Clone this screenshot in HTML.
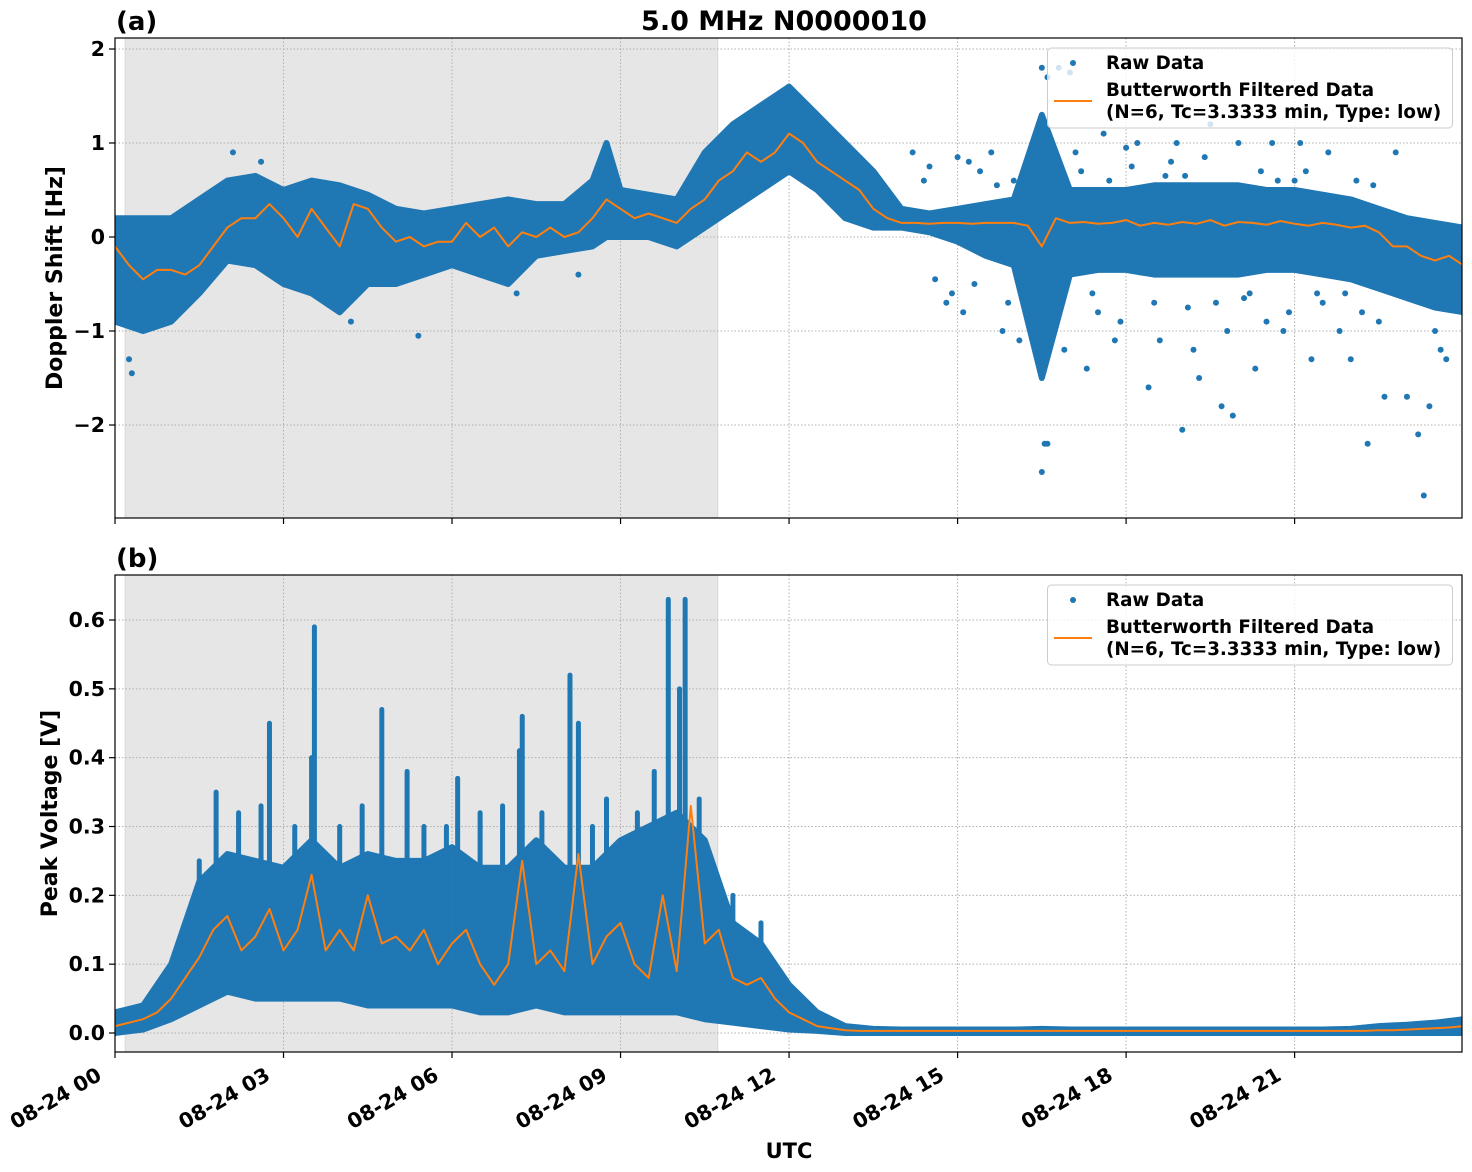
<!DOCTYPE html>
<html><head><meta charset="utf-8"><style>
html,body{margin:0;padding:0;background:#fff;}
svg{display:block;font-family:"DejaVu Sans","Liberation Sans",sans-serif;font-weight:bold;}
</style></head><body>
<svg id="fig" width="1472" height="1172" viewBox="0 0 1472 1172"></svg>
<script>
// ---------- DATA ----------
const tickHours = [0,3,6,9,12,15,18,21];
const tickLabels = ["08-24 00","08-24 03","08-24 06","08-24 09","08-24 12","08-24 15","08-24 18","08-24 21"];
const dopplerTicks = [-2,-1,0,1,2];
const dopplerTickLabels = ["\u22122","\u22121","0","1","2"];
const voltTicks = [0,0.1,0.2,0.3,0.4,0.5,0.6];
const voltTickLabels = ["0.0","0.1","0.2","0.3","0.4","0.5","0.6"];
const shadeStart = 0.18, shadeEnd = 10.73;

// band times every 0.5 h
const bandT = [0,0.5,1,1.5,2,2.5,3,3.5,4,4.5,5,5.5,6,6.5,7,7.5,8,8.5,8.75,9,9.5,10,10.5,11,11.5,12,12.5,13,13.5,14,14.5,15,15.5,16,16.5,17,17.5,18,18.5,19,19.5,20,20.5,21,21.5,22,22.5,23,23.5,24];
const dopHi = [0.2,0.2,0.2,0.4,0.6,0.65,0.5,0.6,0.55,0.45,0.3,0.25,0.3,0.35,0.4,0.35,0.35,0.6,1.0,0.5,0.45,0.4,0.9,1.2,1.4,1.6,1.3,1.0,0.7,0.3,0.25,0.3,0.35,0.4,1.3,0.5,0.5,0.5,0.55,0.55,0.55,0.55,0.5,0.5,0.45,0.4,0.3,0.2,0.15,0.1];
const dopLo = [-0.9,-1.0,-0.9,-0.6,-0.25,-0.3,-0.5,-0.6,-0.8,-0.5,-0.5,-0.4,-0.3,-0.4,-0.5,-0.2,-0.15,-0.1,0.0,0.0,0.0,-0.1,0.1,0.3,0.5,0.7,0.5,0.2,0.1,0.1,0.05,-0.05,-0.2,-0.3,-1.5,-0.4,-0.35,-0.35,-0.4,-0.4,-0.4,-0.4,-0.35,-0.35,-0.4,-0.45,-0.55,-0.65,-0.75,-0.8];
const voltHi = [0.03,0.04,0.1,0.22,0.26,0.25,0.24,0.28,0.24,0.26,0.25,0.25,0.27,0.24,0.24,0.28,0.24,0.24,0.26,0.28,0.3,0.32,0.28,0.16,0.13,0.07,0.03,0.01,0.006,0.005,0.005,0.005,0.005,0.005,0.006,0.005,0.005,0.005,0.005,0.005,0.005,0.005,0.005,0.005,0.005,0.006,0.01,0.012,0.015,0.02];
const voltLo = [0,0.005,0.02,0.04,0.06,0.05,0.05,0.05,0.05,0.04,0.04,0.04,0.04,0.03,0.03,0.04,0.03,0.03,0.03,0.03,0.03,0.03,0.02,0.015,0.01,0.005,0.003,0,0,0,0,0,0,0,0,0,0,0,0,0,0,0,0,0,0,0,0,0,0,0];

// filtered series every 0.25 h
const filtT = Array.from({length:97},(_,i)=>i*0.25);
const dopFilt = [-0.1,-0.3,-0.45,-0.35,-0.35,-0.4,-0.3,-0.1,0.1,0.2,0.2,0.35,0.2,0.0,0.3,0.1,-0.1,0.35,0.3,0.1,-0.05,0.0,-0.1,-0.05,-0.05,0.15,0.0,0.1,-0.1,0.05,0.0,0.1,0.0,0.05,0.2,0.4,0.3,0.2,0.25,0.2,0.15,0.3,0.4,0.6,0.7,0.9,0.8,0.9,1.1,1.0,0.8,0.7,0.6,0.5,0.3,0.2,0.15,0.15,0.14,0.15,0.15,0.14,0.15,0.15,0.15,0.12,-0.1,0.2,0.15,0.16,0.14,0.15,0.18,0.12,0.15,0.13,0.16,0.14,0.18,0.12,0.16,0.15,0.13,0.17,0.14,0.12,0.15,0.13,0.1,0.12,0.05,-0.1,-0.1,-0.2,-0.25,-0.2,-0.3];
const voltFilt = [0.01,0.015,0.02,0.03,0.05,0.08,0.11,0.15,0.17,0.12,0.14,0.18,0.12,0.15,0.23,0.12,0.15,0.12,0.2,0.13,0.14,0.12,0.15,0.1,0.13,0.15,0.1,0.07,0.1,0.25,0.1,0.12,0.09,0.26,0.1,0.14,0.16,0.1,0.08,0.2,0.09,0.33,0.13,0.15,0.08,0.07,0.08,0.05,0.03,0.02,0.01,0.007,0.004,0.003,0.003,0.003,0.003,0.003,0.003,0.003,0.003,0.003,0.003,0.003,0.003,0.003,0.003,0.003,0.003,0.003,0.003,0.003,0.003,0.003,0.003,0.003,0.003,0.003,0.003,0.003,0.003,0.003,0.003,0.003,0.003,0.003,0.003,0.003,0.003,0.003,0.004,0.004,0.005,0.006,0.007,0.008,0.01];

// outlier points (hour, Hz)
const dopOutT = [0.3,0.25,2.1,2.6,4.2,5.4,7.15,8.25,14.2,14.5,15,15.3,15.6,15.8,16.1,16.5,16.55,16.6,16.5,16.6,16.8,17,16.9,17.1,17.3,17.6,17.9,18.2,18.4,18.6,18.9,19.0,19.3,19.5,19.8,20.0,20.3,20.6,20.8,21.1,21.3,21.6,22.0,22.3,22.6,22.8,23.0,23.2,23.3,23.4,23.6,23.7,19.7,19.9,14.8,15.2,17.8,18.0,19.2,20.5,21.8,22.2,14.4,14.9,15.4,15.9,16.3,17.2,17.5,18.1,18.5,18.8,19.1,19.4,20.1,20.4,20.9,21.2,21.5,22.1,22.5,15.1,16.0,17.4,18.7,19.6,20.7,21.4,22.4,14.6,15.7,16.2,17.7,19.05,20.2,21.0,21.9,23.5];
const dopOutV = [-1.45,-1.3,0.9,0.8,-0.9,-1.05,-0.6,-0.4,0.9,0.75,0.85,-0.5,0.9,-1.0,-1.1,-2.5,-2.2,-2.2,1.8,1.7,1.8,1.75,-1.2,0.9,-1.4,1.1,-0.9,1.0,-1.6,-1.1,1.0,-2.05,-1.5,1.2,-1.0,1.0,-1.4,1.0,-1.0,1.0,-1.3,0.9,-1.3,-2.2,-1.7,0.9,-1.7,-2.1,-2.75,-1.8,-1.2,-1.3,-1.8,-1.9,-0.7,0.8,-1.1,0.95,-1.2,-0.9,-1.0,-0.8,0.6,-0.6,0.7,-0.7,0.8,0.7,-0.8,0.75,-0.7,0.8,-0.75,0.85,-0.65,0.7,-0.8,0.7,-0.7,0.6,-0.9,-0.8,0.6,-0.6,0.65,-0.7,0.6,-0.6,0.55,-0.45,0.55,-0.55,0.6,0.65,-0.6,0.6,-0.6,-1.0];
// voltage spikes (hour, peak V)
const voltSpikeT = [1.8,2.2,2.6,2.75,3.2,3.5,3.55,4.0,4.75,5.2,5.5,6.1,6.5,7.2,7.25,7.6,8.1,8.25,8.75,9.3,9.85,10.15,10.05,10.4,11.0,11.5,1.5,4.4,5.9,6.9,8.5,9.6];
const voltSpikeV = [0.35,0.32,0.33,0.45,0.3,0.4,0.59,0.3,0.47,0.38,0.3,0.37,0.32,0.41,0.46,0.32,0.52,0.45,0.34,0.32,0.63,0.63,0.5,0.34,0.2,0.16,0.25,0.33,0.3,0.33,0.3,0.38];

// ---------- RENDER ----------
const NS = "http://www.w3.org/2000/svg";
const svg = document.getElementById("fig");
const X0 = 115, X1 = 1462;
const xs = h => X0 + (X1 - X0) * h / 23.98;
const topY = v => 237 - 94 * v;
const botY = v => 1033 - 688.3 * v;
const BLUE = "#1f77b4", ORANGE = "#ff7f0e";

function mk(tag, attrs, parent) {
  const e = document.createElementNS(NS, tag);
  for (const k in attrs) e.setAttribute(k, attrs[k]);
  (parent || svg).appendChild(e);
  return e;
}
function txt(s, attrs, parent) { const e = mk("text", attrs, parent); e.textContent = s; return e; }

function panel(cfg) {
  const g = mk("g", {});
  
  
  const cid = cfg.name + "-clip";
  const cp = mk("clipPath", {id: cid}, g);
  mk("rect", {x: X0, y: cfg.top, width: X1 - X0, height: cfg.bot - cfg.top}, cp);
  const plot = mk("g", {"clip-path": "url(#" + cid + ")"}, g);
  const sh = mk("rect", {x: xs(shadeStart), y: cfg.top, width: xs(shadeEnd) - xs(shadeStart), height: cfg.bot - cfg.top, fill: "#e6e6e6", stroke: "#d8d8d8"}, plot);
  
  
  tickHours.forEach(h => {
    const l = mk("line", {x1: xs(h), x2: xs(h), y1: cfg.top, y2: cfg.bot, stroke: "#b0b0b0", "stroke-width": 1, "stroke-dasharray": "1.5,2"}, plot);
    
    
  });
  cfg.ticks.forEach(v => {
    const l = mk("line", {x1: X0, x2: X1, y1: cfg.y(v), y2: cfg.y(v), stroke: "#b0b0b0", "stroke-width": 1, "stroke-dasharray": "1.5,2"}, plot);
    
    
  });
  let pts = [];
  bandT.forEach((t, i) => pts.push(xs(t) + "," + cfg.y(cfg.hi[i])));
  for (let i = bandT.length - 1; i >= 0; i--) pts.push(xs(bandT[i]) + "," + cfg.y(cfg.lo[i]));
  const band = mk("polygon", {points: pts.join(" "), fill: BLUE, stroke: BLUE, "stroke-width": 6, "stroke-linejoin": "round"}, plot);
  
  
  if (cfg.spT) cfg.spT.forEach((t, i) => {
    const s = mk("line", {x1: xs(t), x2: xs(t), y1: cfg.y(0.1), y2: cfg.y(cfg.spV[i]), stroke: BLUE, "stroke-width": 5, "stroke-linecap": "round"}, plot);
    
    
  });
  if (cfg.oT) cfg.oT.forEach((t, i) => {
    const c = mk("circle", {cx: xs(t), cy: cfg.y(cfg.oV[i]), r: 3, fill: BLUE}, plot);
    
    
  });
  const d = filtT.map((t, i) => (i ? "L" : "M") + xs(t).toFixed(1) + "," + cfg.y(cfg.filt[i]).toFixed(1)).join("");
  const fl = mk("path", {d: d, fill: "none", stroke: ORANGE, "stroke-width": 2, "stroke-linejoin": "round"}, plot);
  
  
  const fr = mk("rect", {x: X0, y: cfg.top, width: X1 - X0, height: cfg.bot - cfg.top, fill: "none", stroke: "#000", "stroke-width": 1.2}, g);
  
  
  tickHours.forEach(h => {
    const t = mk("line", {x1: xs(h), x2: xs(h), y1: cfg.bot, y2: cfg.bot + 6, stroke: "#000", "stroke-width": 1.2}, g);
    
    
  });
  cfg.ticks.forEach((v, i) => {
    const t = mk("line", {x1: X0 - 6, x2: X0, y1: cfg.y(v), y2: cfg.y(v), stroke: "#000", "stroke-width": 1.2}, g);
    
    
    const lb = txt(cfg.tickLabels[i], {x: X0 - 10, y: cfg.y(v) + 7, "text-anchor": "end", "font-size": 20.5}, g);
    
    
  });
  const yt = txt(cfg.ylabel, {transform: "translate(" + cfg.ylx + "," + ((cfg.top + cfg.bot) / 2) + ") rotate(-90)", "text-anchor": "middle", "font-size": 22}, g);
  
  
  const pl = txt(cfg.plabel, {x: 116, y: cfg.top - 8, "font-size": 26}, g);
  
  
  const L = mk("g", {}, g);
  
  
  const ly = cfg.top + 10;
  mk("rect", {x: 1047.5, y: ly, width: 405, height: 80, rx: 4, fill: "#fff", "fill-opacity": 0.8, stroke: "#cccccc"}, L);
  const lm = mk("circle", {cx: 1073, cy: ly + 15, r: 3, fill: BLUE}, L);
  
  
  const l1 = txt("Raw Data", {x: 1106, y: ly + 21, "font-size": 18.3}, L);
  
  
  const ll = mk("line", {x1: 1054, x2: 1092, y1: ly + 53, y2: ly + 53, stroke: ORANGE, "stroke-width": 2}, L);
  
  
  const l2 = txt("Butterworth Filtered Data", {x: 1106, y: ly + 48, "font-size": 18.3}, L);
  
  
  const l3 = txt("(N=6, Tc=3.3333 min, Type: low)", {x: 1106, y: ly + 70, "font-size": 18.3}, L);
  
  
}

panel({name: "doppler-panel", top: 38, bot: 518, y: topY, ticks: dopplerTicks, tickLabels: dopplerTickLabels,
  hi: dopHi, lo: dopLo, filt: dopFilt, oT: dopOutT, oV: dopOutV, ylabel: "Doppler Shift [Hz]", ylx: 62, plabel: "(a)"});
panel({name: "voltage-panel", top: 575, bot: 1052, y: botY, ticks: voltTicks, tickLabels: voltTickLabels,
  hi: voltHi, lo: voltLo, filt: voltFilt, spT: voltSpikeT, spV: voltSpikeV, ylabel: "Peak Voltage [V]", ylx: 57, plabel: "(b)"});

tickHours.forEach((h, i) => {
  const t = txt(tickLabels[i], {transform: "translate(" + (xs(h) - 12) + ",1079) rotate(-30)", "text-anchor": "end", "font-size": 20.5});
  
  
});
const xt = txt("UTC", {x: 789, y: 1158, "text-anchor": "middle", "font-size": 21});


const title = txt("5.0 MHz N0000010", {x: 784, y: 30, "text-anchor": "middle", "font-size": 27});


</script>
</body></html>
